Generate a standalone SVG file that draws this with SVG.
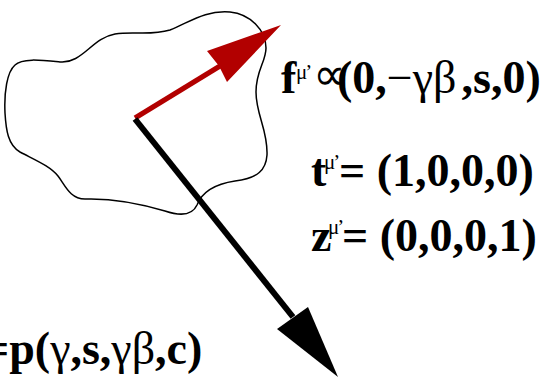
<svg xmlns="http://www.w3.org/2000/svg" width="543" height="379" viewBox="0 0 543 379">
<style>
.lbl{font-family:"Liberation Serif","Times New Roman",serif;font-weight:bold;font-size:46px;fill:#000}
.g{font-weight:normal}
.sup{font-weight:normal;font-size:21px;letter-spacing:-2px}
</style>
<rect width="543" height="379" fill="#fff"/>
<g id="blob">
<path d="M5,113 C4,92 7,72 15,65 C22,58 40,60 60,62 C82,64 92,38 115,34 C135,31 150,36 170,30 C190,22 205,10 230,12 C250,14 266,30 266,48 C266,62 256,70 256,92 C256,115 268,130 267,155 C266,170 258,178 235,181 C215,184 202,192 197,205 C192,216 180,216 165,211 C145,205 115,198 85,199 C70,199 65,185 58,176 C50,166 35,160 20,152 C8,145 6,130 5,113 Z" fill="none" stroke="#000" stroke-width="1.5"/>
</g>
<g id="connectors">
<g id="f-arrow">
<line x1="135" y1="118" x2="220" y2="66" stroke="#b20000" stroke-width="5"/>
<polygon points="207,51 281,25 227,82 219,66" fill="#b20000"/>
</g>
<g id="u-arrow">
<line x1="135" y1="119" x2="293" y2="317" stroke="#000" stroke-width="6"/>
<polygon points="277,329 308,307 338,377" fill="#000"/>
</g>
</g>
<g id="label-f">
<text class="lbl" x="281" y="93">f</text>
<text class="lbl sup" x="296" y="79">μ’</text>
<text class="lbl g" x="313" y="90" font-size="18">∝</text>
<text class="lbl" x="337" y="93">(0,<tspan class="g">−γβ</tspan><tspan dx="5">,s,0)</tspan></text>
</g>
<g id="label-t">
<text class="lbl" x="311" y="186">t</text>
<text class="lbl sup" x="324" y="169">μ’</text>
<text class="lbl" x="339" y="186">= (1,0,0,0)</text>
</g>
<g id="label-z">
<text class="lbl" x="311" y="251">z</text>
<text class="lbl sup" x="328" y="234">μ’</text>
<text class="lbl" x="342" y="251">= (0,0,0,1)</text>
</g>
<g id="label-u">
<text class="lbl" x="-17" y="364" font-size="44">=p(<tspan class="g">γ</tspan>,s,<tspan class="g">γβ</tspan>,c)</text>
</g>
</svg>
